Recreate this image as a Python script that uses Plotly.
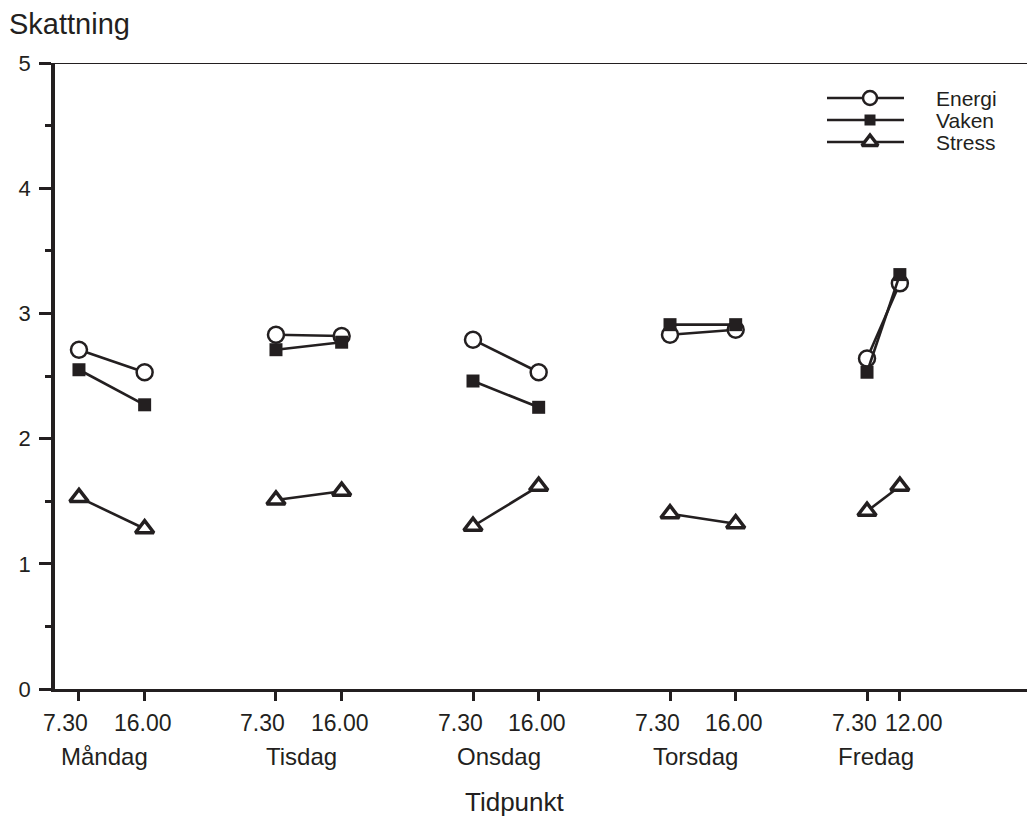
import plotly.graph_objects as go

# ---- data ----
x_pos = [0, 1, 3, 4, 6, 7, 9, 10, 12, 12.5]
time_labels = ["7.30", "16.00", "7.30", "16.00", "7.30", "16.00", "7.30", "16.00", "7.30", "12.00"]
days = ["Måndag", "Tisdag", "Onsdag", "Torsdag", "Fredag"]

energi = [2.71, 2.53, 2.83, 2.82, 2.79, 2.53, 2.83, 2.87, 2.64, 3.24]
vaken = [2.55, 2.27, 2.71, 2.77, 2.46, 2.25, 2.91, 2.91, 2.53, 3.31]
stress = [1.53, 1.28, 1.51, 1.58, 1.30, 1.62, 1.40, 1.32, 1.42, 1.62]

series_names = ["Energi", "Vaken", "Stress"]

INK = "#231f20"
FONT = "Liberation Sans, Arial, Helvetica, sans-serif"

# plot-area geometry in pixels (used to convert label placement to paper coords)
L, R, T, B = 55, 1027, 63, 689
def px(xp):
    return (xp - L) / (R - L)
def py(yp):
    return (B - yp) / (B - T)

marker_styles = {
    "Energi": dict(symbol="circle", size=16, color="white", line=dict(color=INK, width=2.5)),
    "Vaken": dict(symbol="square", size=13, color=INK, line=dict(color=INK, width=0)),
    "Stress": dict(symbol="triangle-up", size=16, color="white", line=dict(color=INK, width=3.5)),
}
values = {"Energi": energi, "Vaken": vaken, "Stress": stress}

fig = go.Figure()

for name in series_names:
    vals = values[name]
    for d in range(len(days)):
        i0, i1 = 2 * d, 2 * d + 1
        fig.add_trace(go.Scatter(
            x=[x_pos[i0], x_pos[i1]], y=[vals[i0], vals[i1]],
            mode="lines+markers",
            line=dict(color=INK, width=2.6),
            marker=marker_styles[name],
            showlegend=False, hoverinfo="skip", cliponaxis=False,
        ))

# ---- custom legend on an overlay pixel axis ----
leg_rows = [98, 120, 142]
for name, yy in zip(series_names, leg_rows):
    fig.add_trace(go.Scatter(
        x=[827, 904], y=[yy, yy], xaxis="x2", yaxis="y2",
        mode="lines", line=dict(color=INK, width=2.5),
        showlegend=False, hoverinfo="skip"))
    ms = dict(marker_styles[name])
    ms["size"] = ms["size"] - 2
    fig.add_trace(go.Scatter(
        x=[870], y=[yy], xaxis="x2", yaxis="y2",
        mode="markers", marker=ms, showlegend=False, hoverinfo="skip"))
    fig.add_annotation(x=px(934), y=py(yy), xref="paper", yref="paper", text=name,
                       showarrow=False, xanchor="left", yanchor="middle",
                       font=dict(family=FONT, size=21, color=INK))

# time tick labels (offset from their ticks as in the original)
label_shift = {"7.30": -13, "16.00": -2, "12.00": 14}
for xv, lab in zip(x_pos, time_labels):
    fig.add_annotation(x=xv, y=py(723), xref="x", yref="paper", text=lab,
                       showarrow=False, xanchor="center", yanchor="middle",
                       xshift=label_shift[lab],
                       font=dict(family=FONT, size=23, color=INK))

# day labels
for d, day in enumerate(days):
    mid = (x_pos[2 * d] + x_pos[2 * d + 1]) / 2
    fig.add_annotation(x=mid, y=py(756), xref="x", yref="paper", text=day,
                       showarrow=False, xanchor="center", yanchor="middle",
                       xshift=-7,
                       font=dict(family=FONT, size=24, color=INK))

# axis titles
fig.add_annotation(x=px(7), y=py(24), xref="paper", yref="paper", text="Skattning",
                   showarrow=False, xanchor="left", yanchor="middle",
                   font=dict(family=FONT, size=29, color=INK))
fig.add_annotation(x=px(515), y=py(802), xref="paper", yref="paper", text="Tidpunkt",
                   showarrow=False, xanchor="center", yanchor="middle",
                   font=dict(family=FONT, size=26, color=INK))

# top frame line
fig.add_shape(type="line", xref="paper", yref="y", x0=0, x1=1, y0=5, y1=5,
              line=dict(color=INK, width=2))

fig.update_layout(
    width=1027, height=816,
    margin=dict(l=L, r=1027 - R, t=T, b=816 - B),
    plot_bgcolor="white", paper_bgcolor="white",
    font=dict(family=FONT, color=INK),
    xaxis=dict(
        range=[-0.365, 14.436], tickmode="array", tickvals=x_pos, showticklabels=False,
        ticks="outside", ticklen=9, tickwidth=2.5, tickcolor=INK,
        showline=True, linecolor=INK, linewidth=3, showgrid=False, zeroline=False,
        fixedrange=True,
    ),
    yaxis=dict(
        range=[0, 5], tickmode="array", tickvals=[0, 1, 2, 3, 4, 5],
        ticks="outside", ticklen=12, tickwidth=2.5, tickcolor=INK,
        minor=dict(tickvals=[0.5, 1.5, 2.5, 3.5, 4.5], ticks="outside", ticklen=6,
                   tickwidth=2.5, tickcolor=INK),
        showline=True, linecolor=INK, linewidth=3.5, showgrid=False, zeroline=False,
        tickfont=dict(family=FONT, size=22, color=INK), ticklabelstandoff=4,
        fixedrange=True,
    ),
    xaxis2=dict(overlaying="x", range=[L, R], visible=False, domain=[0, 1],
                anchor="y2", fixedrange=True),
    yaxis2=dict(overlaying="y", range=[B, T], visible=False, anchor="x2",
                fixedrange=True),
)

fig.write_html("out.html")
